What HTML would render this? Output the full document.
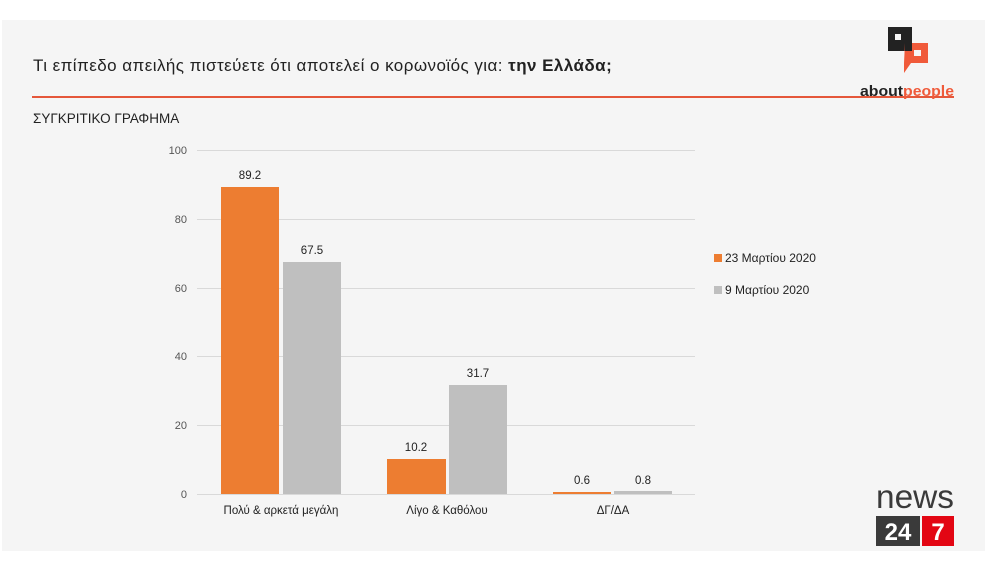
<!DOCTYPE html>
<html><head><meta charset="utf-8"><style>
body{margin:0;width:985px;height:573px;background:#fff;position:relative;overflow:hidden;font-family:"Liberation Sans","DejaVu Sans",sans-serif}
#s{position:absolute;left:2px;top:20px;width:983px;height:531px;background:#f5f5f5}
.t{position:absolute;white-space:nowrap;color:#222}
</style></head><body>
<div id="s"></div>
<div class="t" style="left:33px;top:56px;font-size:17px;letter-spacing:0.45px;color:#222">Τι επίπεδο απειλής πιστεύετε ότι αποτελεί ο κορωνοϊός για: <b>την Ελλάδα;</b></div>
<div style="position:absolute;left:32px;top:96px;width:922px;height:2px;background:#e5573a"></div>
<div class="t" style="left:33px;top:111px;font-size:13.5px">ΣΥΓΚΡΙΤΙΚΟ ΓΡΑΦΗΜΑ</div>
<svg style="position:absolute;left:0;top:0" width="985" height="573">
<g stroke="#d9d9d9" stroke-width="1">
<line x1="197" x2="695" y1="150.5" y2="150.5"/><line x1="197" x2="695" y1="219.5" y2="219.5"/><line x1="197" x2="695" y1="288.5" y2="288.5"/><line x1="197" x2="695" y1="356.5" y2="356.5"/><line x1="197" x2="695" y1="425.5" y2="425.5"/><line x1="197" x2="695" y1="494.5" y2="494.5"/>
</g>
<g font-size="11" fill="#555" text-anchor="end" font-family="Liberation Sans,sans-serif">
<text x="187" y="154">100</text><text x="187" y="223">80</text><text x="187" y="292">60</text><text x="187" y="360">40</text><text x="187" y="429">20</text><text x="187" y="498">0</text>
</g>
<g fill="#ed7d31"><rect x="221" y="187" width="58" height="307"/><rect x="387" y="459" width="59" height="35"/><rect x="553" y="492" width="58" height="2"/></g>
<g fill="#bfbfbf"><rect x="283" y="262" width="58" height="232"/><rect x="449" y="385" width="58" height="109"/><rect x="614" y="491" width="58" height="3"/></g>
<g font-size="11.5" fill="#222" text-anchor="middle" font-family="Liberation Sans,sans-serif">
<text x="250" y="179">89.2</text><text x="312" y="254">67.5</text><text x="416" y="451">10.2</text><text x="478" y="377">31.7</text><text x="582" y="484">0.6</text><text x="643" y="484">0.8</text>
<text x="281" y="514">Πολύ &amp; αρκετά μεγάλη</text><text x="447" y="514">Λίγο &amp; Καθόλου</text><text x="613" y="514">ΔΓ/ΔΑ</text>
</g>
<rect x="714" y="254" width="8" height="8" fill="#ed7d31"/><rect x="714" y="286" width="8" height="8" fill="#bfbfbf"/>
<g font-size="12" fill="#222" font-family="Liberation Sans,sans-serif"><text x="725" y="262">23 Μαρτίου 2020</text><text x="725" y="294">9 Μαρτίου 2020</text></g>
<rect x="888" y="27" width="24" height="24" fill="#222"/><rect x="895" y="34" width="6" height="6" fill="#f5f5f5"/>
<path d="M905 43 H928 V63 H911 L904 73 V63 Z" fill="#f05a3a"/><path d="M905 43 H912 V51 H905Z" fill="#222"/><rect x="914" y="50" width="7" height="6" fill="#f5f5f5"/>
<text x="860" y="96" font-size="15" font-weight="bold" fill="#222" font-family="Liberation Sans,sans-serif" textLength="94" lengthAdjust="spacingAndGlyphs">about<tspan fill="#f05a3a">people</tspan></text>
<text x="876" y="508" font-size="33" fill="#3a3a3a" font-family="Liberation Sans,sans-serif" textLength="78" lengthAdjust="spacingAndGlyphs">news</text>
<rect x="876" y="516" width="44" height="30" fill="#3a3a3a"/><rect x="922" y="516" width="32" height="30" fill="#e30613"/>
<text x="898" y="540" font-size="24" font-weight="bold" fill="#fff" text-anchor="middle" font-family="Liberation Sans,sans-serif">24</text>
<text x="938" y="540" font-size="24" font-weight="bold" fill="#fff" text-anchor="middle" font-family="Liberation Sans,sans-serif">7</text>
</svg>
</body></html>
